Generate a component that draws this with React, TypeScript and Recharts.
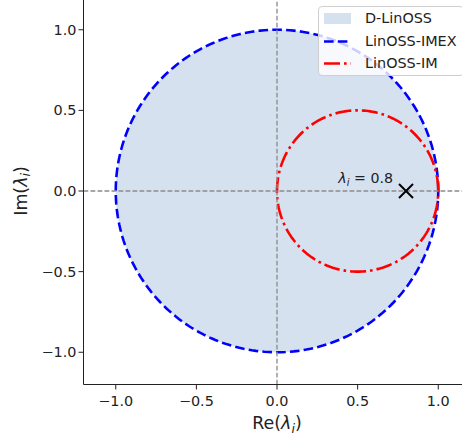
import React from 'react';
import { ComposedChart, Area, Line, Scatter, XAxis, YAxis, ReferenceLine, Legend } from 'recharts';

// ---- data ----
const ticks = [-1, -0.5, 0, 0.5, 1];
const axisDomain: [number, number] = [-1.2, 1.2];
// circular regions: centre (cx, cy) and radius r, in the complex plane
const dLinossRegion = [{ cx: 0, cy: 0, r: 1 }];
const imexBoundary = [{ cx: 0, cy: 0, r: 1 }];
const imBoundary = [{ cx: 0.5, cy: 0, r: 0.5 }];
const eigenvalue = [{ x: 0.8, y: 0 }];
const eigenLabel = ['0.8'];
const seriesNames = ['D-LinOSS', 'LinOSS-IMEX', 'LinOSS-IM'];

// ---- styles ----
const FONT = '"DejaVu Sans", sans-serif';
const FILL = '#d6e1f0';
const BLUE = '#0000ff';
const RED = '#ff0000';
const GRID = '#8a8a8a';
const INK = '#222222';

const SAMPLES = 240;

type Circle = { cx: number; cy: number; r: number };

// boundary of a circle as an (x, y) path
const circlePath = (c: Circle) => {
  const pts: { x: number; y: number }[] = [];
  for (let i = 0; i <= SAMPLES; i++) {
    const t = (2 * Math.PI * i) / SAMPLES;
    pts.push({ x: c.cx + c.r * Math.cos(t), y: c.cy + c.r * Math.sin(t) });
  }
  return pts;
};

// filled disk as a range band [lower, upper] for each x
const diskBand = (c: Circle) => {
  const pts: { x: number; band: [number, number] }[] = [];
  for (let i = 0; i <= SAMPLES; i++) {
    const t = Math.PI - (Math.PI * i) / SAMPLES;
    const h = c.r * Math.sin(t);
    pts.push({ x: c.cx + c.r * Math.cos(t), band: [c.cy - h, c.cy + h] });
  }
  return pts;
};

const diskData = diskBand(dLinossRegion[0]);
const imexData = circlePath(imexBoundary[0]);
const imData = circlePath(imBoundary[0]);

const fmt = (v: number) => (v < 0 ? '\u2212' + Math.abs(v).toFixed(1) : v.toFixed(1));

const CrossMarker = (props: any) => {
  const { cx, cy } = props;
  if (cx == null || cy == null) return <g />;
  const s = 7;
  return (
    <g>
      <line x1={cx - s} y1={cy - s} x2={cx + s} y2={cy + s} stroke="#000" strokeWidth={2} />
      <line x1={cx - s} y1={cy + s} x2={cx + s} y2={cy - s} stroke="#000" strokeWidth={2} />
      <text x={cx - 13} y={cy - 8.5} textAnchor="end" fontFamily={FONT} fontSize={14.2} fill={INK}>
        <tspan fontStyle="italic">λ</tspan>
        <tspan fontStyle="italic" fontSize={10} dy={3}>i</tspan>
        <tspan dy={-3}>{' = ' + eigenLabel[0]}</tspan>
      </text>
    </g>
  );
};

const XTitle = (props: any) => {
  const vb = props.viewBox || {};
  return (
    <text x={vb.x + vb.width / 2} y={vb.y + 44.5} textAnchor="middle" fontFamily={FONT} fontSize={17.4} fill={INK}>
      Re(<tspan fontStyle="italic">λ</tspan>
      <tspan fontStyle="italic" fontSize={12.5} dy={3.5}>i</tspan>
      <tspan dy={-3.5}>)</tspan>
    </text>
  );
};

const YTitle = (props: any) => {
  const vb = props.viewBox || {};
  const x = vb.x + 26;
  const y = vb.y + vb.height / 2;
  return (
    <text x={x} y={y} transform={`rotate(-90 ${x} ${y})`} textAnchor="middle" fontFamily={FONT} fontSize={17.4} fill={INK}>
      Im(<tspan fontStyle="italic">λ</tspan>
      <tspan fontStyle="italic" fontSize={12.5} dy={3.5}>i</tspan>
      <tspan dy={-3.5}>)</tspan>
    </text>
  );
};

const LegendBox = () => {
  const rowY = [17, 40, 62];
  const sample = (i: number) => {
    if (i === 0) return <rect x={0} y={0} width={27} height={11} fill={FILL} />;
    if (i === 1)
      return <line x1={0} y1={5.5} x2={27} y2={5.5} stroke={BLUE} strokeWidth={2.6} strokeDasharray="9.6 4.2" />;
    return <line x1={0} y1={5.5} x2={27} y2={5.5} stroke={RED} strokeWidth={2.6} strokeDasharray="16 4 2.6 4" />;
  };
  return (
    <div
      style={{
        position: 'relative',
        width: 146,
        height: 70,
        boxSizing: 'border-box',
        border: '1px solid #cfcfcf',
        borderRadius: 4,
        background: 'rgba(255,255,255,0.8)',
        fontFamily: FONT,
        fontSize: 14.4,
        color: INK,
      }}
    >
      {seriesNames.map((name, i) => (
        <div key={name}>
          <svg width={27} height={11} style={{ position: 'absolute', left: 5, top: rowY[i] - 6 - 5.5 }}>
            {sample(i)}
          </svg>
          <span style={{ position: 'absolute', left: 46, top: rowY[i] - 6 - 9, lineHeight: '18px', whiteSpace: 'nowrap' }}>
            {name}
          </span>
        </div>
      ))}
    </div>
  );
};

export default function App() {
  const tickStyle = { fontFamily: FONT, fontSize: 14.4, fill: INK };
  return (
    <div style={{ position: 'absolute', left: 0, top: -10 }}>
      <ComposedChart width={480} height={452} margin={{ top: 7.5, right: 9.5, left: 0.5, bottom: 0 }}>
        <XAxis
          type="number"
          dataKey="x"
          domain={axisDomain}
          allowDataOverflow
          ticks={ticks}
          interval={0}
          tickFormatter={fmt}
          tick={tickStyle}
          tickSize={5}
          tickMargin={6}
          height={57.5}
          axisLine={{ stroke: INK, strokeWidth: 1 }}
          tickLine={{ stroke: INK, strokeWidth: 1 }}
          label={<XTitle />}
        />
        <YAxis
          type="number"
          dataKey="y"
          domain={axisDomain}
          allowDataOverflow
          ticks={ticks}
          interval={0}
          tickFormatter={fmt}
          tick={tickStyle}
          tickSize={5}
          tickMargin={2}
          width={83}
          axisLine={{ stroke: INK, strokeWidth: 1 }}
          tickLine={{ stroke: INK, strokeWidth: 1 }}
          label={<YTitle />}
        />
        <Area
          data={diskData}
          dataKey="band"
          type="linear"
          fill={FILL}
          fillOpacity={1}
          stroke="none"
          isAnimationActive={false}
          legendType="none"
        />
        <Line
          data={imexData}
          dataKey="y"
          type="linear"
          stroke={BLUE}
          strokeWidth={2.6}
          strokeDasharray="9.6 4.2"
          dot={false}
          activeDot={false}
          isAnimationActive={false}
        />
        <Line
          data={imData}
          dataKey="y"
          type="linear"
          stroke={RED}
          strokeWidth={2.6}
          strokeDasharray="16 4 2.6 4"
          dot={false}
          activeDot={false}
          isAnimationActive={false}
        />
        <ReferenceLine x={0} stroke={GRID} strokeWidth={1.3} strokeDasharray="4.8 2.2" />
        <ReferenceLine y={0} stroke={GRID} strokeWidth={1.3} strokeDasharray="4.8 2.2" />
        <Scatter data={eigenvalue} dataKey="y" shape={<CrossMarker />} isAnimationActive={false} />
        <Legend
          layout="horizontal"
          verticalAlign="middle"
          align="center"
          content={<LegendBox />}
          wrapperStyle={{ top: 16, left: 318, width: 146, height: 70 }}
        />
      </ComposedChart>
    </div>
  );
}
